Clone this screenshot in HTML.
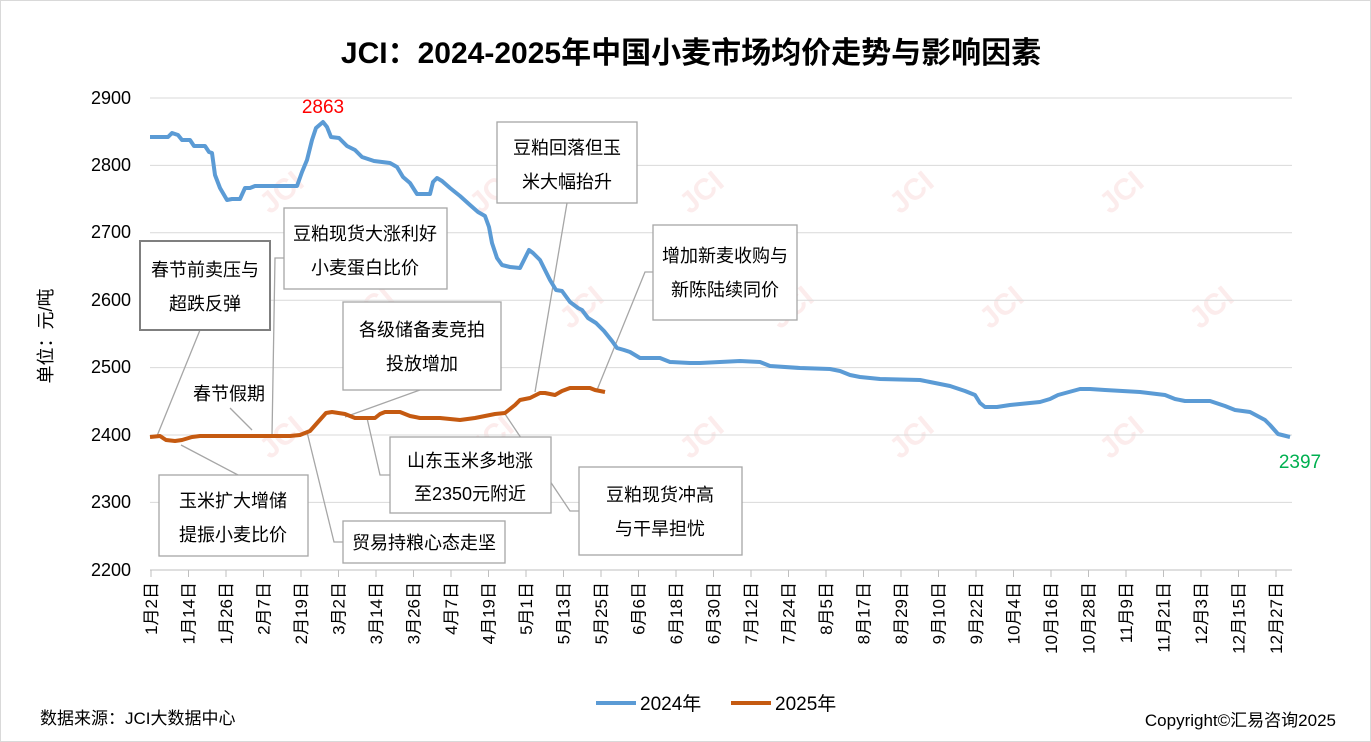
<!DOCTYPE html>
<html><head><meta charset="utf-8"><style>
html,body{margin:0;padding:0;background:#fff}
svg{display:block}
text{font-family:"Liberation Sans","Noto Sans CJK SC",sans-serif}
</style></head><body>
<svg width="1371" height="742" viewBox="0 0 1371 742" xmlns="http://www.w3.org/2000/svg">
<rect x="0.5" y="0.5" width="1370" height="741" fill="#fff" stroke="#d9d9d9"/>
<text x="691" y="63" font-size="30" font-weight="bold" text-anchor="middle" fill="#000">JCI：2024-2025年中国小麦市场均价走势与影响因素</text>
<g font-size="30" fill="#f8d8d8" font-weight="bold" opacity="0.5">
<text transform="translate(270,215) rotate(-40)">JCI</text>
<text transform="translate(480,215) rotate(-40)">JCI</text>
<text transform="translate(690,215) rotate(-40)">JCI</text>
<text transform="translate(900,215) rotate(-40)">JCI</text>
<text transform="translate(1110,215) rotate(-40)">JCI</text>
<text transform="translate(360,330) rotate(-40)">JCI</text>
<text transform="translate(570,330) rotate(-40)">JCI</text>
<text transform="translate(780,330) rotate(-40)">JCI</text>
<text transform="translate(990,330) rotate(-40)">JCI</text>
<text transform="translate(1200,330) rotate(-40)">JCI</text>
<text transform="translate(270,460) rotate(-40)">JCI</text>
<text transform="translate(480,460) rotate(-40)">JCI</text>
<text transform="translate(690,460) rotate(-40)">JCI</text>
<text transform="translate(900,460) rotate(-40)">JCI</text>
<text transform="translate(1110,460) rotate(-40)">JCI</text>
</g>
<g stroke="#d9d9d9" stroke-width="1">
<line x1="150" x2="1292" y1="98" y2="98"/>
<line x1="150" x2="1292" y1="165.4" y2="165.4"/>
<line x1="150" x2="1292" y1="232.8" y2="232.8"/>
<line x1="150" x2="1292" y1="300.2" y2="300.2"/>
<line x1="150" x2="1292" y1="367.6" y2="367.6"/>
<line x1="150" x2="1292" y1="435" y2="435"/>
<line x1="150" x2="1292" y1="502.4" y2="502.4"/>
<line x1="150" x2="1292" y1="570" y2="570" stroke="#bfbfbf"/>
</g>
<g font-size="18" fill="#000" text-anchor="end">
<text x="131" y="104">2900</text><text x="131" y="171">2800</text><text x="131" y="238">2700</text>
<text x="131" y="306">2600</text><text x="131" y="373">2500</text><text x="131" y="441">2400</text>
<text x="131" y="508">2300</text><text x="131" y="576">2200</text>
</g>
<text transform="translate(52,336) rotate(-90)" font-size="18" text-anchor="middle">单位：元/吨</text>
<g stroke="#bfbfbf">
<line x1="151" x2="151" y1="570" y2="577"/><line x1="188.5" x2="188.5" y1="570" y2="577"/><line x1="226" x2="226" y1="570" y2="577"/><line x1="263.5" x2="263.5" y1="570" y2="577"/><line x1="301" x2="301" y1="570" y2="577"/><line x1="338.5" x2="338.5" y1="570" y2="577"/><line x1="376" x2="376" y1="570" y2="577"/><line x1="413.5" x2="413.5" y1="570" y2="577"/><line x1="451" x2="451" y1="570" y2="577"/><line x1="488.5" x2="488.5" y1="570" y2="577"/><line x1="526" x2="526" y1="570" y2="577"/><line x1="563.5" x2="563.5" y1="570" y2="577"/><line x1="601" x2="601" y1="570" y2="577"/><line x1="638.5" x2="638.5" y1="570" y2="577"/><line x1="676" x2="676" y1="570" y2="577"/><line x1="713.5" x2="713.5" y1="570" y2="577"/><line x1="751" x2="751" y1="570" y2="577"/><line x1="788.5" x2="788.5" y1="570" y2="577"/><line x1="826" x2="826" y1="570" y2="577"/><line x1="863.5" x2="863.5" y1="570" y2="577"/><line x1="901" x2="901" y1="570" y2="577"/><line x1="938.5" x2="938.5" y1="570" y2="577"/><line x1="976" x2="976" y1="570" y2="577"/><line x1="1013.5" x2="1013.5" y1="570" y2="577"/><line x1="1051" x2="1051" y1="570" y2="577"/><line x1="1088.5" x2="1088.5" y1="570" y2="577"/><line x1="1126" x2="1126" y1="570" y2="577"/><line x1="1163.5" x2="1163.5" y1="570" y2="577"/><line x1="1201" x2="1201" y1="570" y2="577"/><line x1="1238.5" x2="1238.5" y1="570" y2="577"/><line x1="1276" x2="1276" y1="570" y2="577"/>
</g>
<g font-size="17" fill="#000" text-anchor="end">
<text transform="translate(157,582) rotate(-90)">1月2日</text>
<text transform="translate(194.5,582) rotate(-90)">1月14日</text>
<text transform="translate(232,582) rotate(-90)">1月26日</text>
<text transform="translate(269.5,582) rotate(-90)">2月7日</text>
<text transform="translate(307,582) rotate(-90)">2月19日</text>
<text transform="translate(344.5,582) rotate(-90)">3月2日</text>
<text transform="translate(382,582) rotate(-90)">3月14日</text>
<text transform="translate(419.5,582) rotate(-90)">3月26日</text>
<text transform="translate(457,582) rotate(-90)">4月7日</text>
<text transform="translate(494.5,582) rotate(-90)">4月19日</text>
<text transform="translate(532,582) rotate(-90)">5月1日</text>
<text transform="translate(569.5,582) rotate(-90)">5月13日</text>
<text transform="translate(607,582) rotate(-90)">5月25日</text>
<text transform="translate(644.5,582) rotate(-90)">6月6日</text>
<text transform="translate(682,582) rotate(-90)">6月18日</text>
<text transform="translate(719.5,582) rotate(-90)">6月30日</text>
<text transform="translate(757,582) rotate(-90)">7月12日</text>
<text transform="translate(794.5,582) rotate(-90)">7月24日</text>
<text transform="translate(832,582) rotate(-90)">8月5日</text>
<text transform="translate(869.5,582) rotate(-90)">8月17日</text>
<text transform="translate(907,582) rotate(-90)">8月29日</text>
<text transform="translate(944.5,582) rotate(-90)">9月10日</text>
<text transform="translate(982,582) rotate(-90)">9月22日</text>
<text transform="translate(1019.5,582) rotate(-90)">10月4日</text>
<text transform="translate(1057,582) rotate(-90)">10月16日</text>
<text transform="translate(1094.5,582) rotate(-90)">10月28日</text>
<text transform="translate(1132,582) rotate(-90)">11月9日</text>
<text transform="translate(1169.5,582) rotate(-90)">11月21日</text>
<text transform="translate(1207,582) rotate(-90)">12月3日</text>
<text transform="translate(1244.5,582) rotate(-90)">12月15日</text>
<text transform="translate(1282,582) rotate(-90)">12月27日</text>
</g>
<g stroke="#a6a6a6" stroke-width="1.3" fill="none">
<polyline points="200,330 157,436"/>
<polyline points="284,258 275,258 272,436"/>
<polyline points="567,203 535,392"/>
<polyline points="653,272 645,272 597,390"/>
<polyline points="420,390 345,417"/>
<polyline points="230,408 252,430"/>
<polyline points="181,445 238,475"/>
<polyline points="307,432 334,542 343,542"/>
<polyline points="367,418 380,475 390,475"/>
<polyline points="505,414 570,511 579,511"/>
</g>
<polyline fill="none" stroke="#5b9bd5" stroke-width="4" stroke-linejoin="round" points="150,137 168,137 172,133 178,135 182,140 190,140 194,146 205,146 209,152 212,153 215,175 220,188 227,200 232,199 240,199 245,188 250,188 255,186 265,186 297,186 302,172 307,160 312,140 316,128 323,122 327,127 331,137 339,138 347,146 355,150 362,157 368,159 374,161 382,162 390,163 397,167 403,177 410,183 417,194 430,194 433,182 437,178 442,181 450,188 460,196 470,205 478,212 485,216 489,227 492,243 497,258 502,265 510,267 520,268 525,258 529,250 533,253 540,260 545,270 550,280 556,290 562,291 570,302 578,308 582,310 588,318 596,323 604,331 612,341 617,348 624,350 630,352 640,358 660,358 670,362 690,363 700,363 720,362 740,361 760,362 770,366 800,368 830,369 840,371 850,375 860,377 880,379 920,380 930,382 950,386 965,391 975,395 980,403 985,407 997,407 1010,405 1040,402 1050,399 1058,395 1080,389 1090,389 1105,390 1140,392 1165,395 1175,399 1185,401 1210,401 1225,406 1235,410 1250,412 1265,420 1270,425 1278,434 1290,437"/>
<polyline fill="none" stroke="#c55a11" stroke-width="4" stroke-linejoin="round" points="150,437 160,436 166,440 175,441 182,440 192,437 200,436 240,436 290,436 300,435 310,431 318,422 326,413 332,412 345,414 355,418 375,418 380,414 385,412 400,412 410,416 420,418 440,418 460,420 475,418 495,414 505,413 515,405 520,400 530,398 540,393 545,393 555,395 562,391 570,388 590,388 595,390 605,392"/>
<text x="323" y="113" font-size="19" fill="#ff0000" text-anchor="middle">2863</text>
<text x="1300" y="468" font-size="19" fill="#00b050" text-anchor="middle">2397</text>
<g fill="#fff" stroke="#a6a6a6" stroke-width="1.3">
<rect x="140" y="241" width="130" height="89" stroke="#7f7f7f" stroke-width="2"/>
<rect x="284" y="208" width="163" height="81"/>
<rect x="497" y="122" width="140" height="81"/>
<rect x="653" y="225" width="144" height="95"/>
<rect x="343" y="302" width="158" height="88"/>
<rect x="159" y="475" width="149" height="81"/>
<rect x="343" y="521" width="162" height="42"/>
<rect x="390" y="437" width="161" height="76"/>
<rect x="579" y="467" width="163" height="88"/>
</g>
<g font-size="18" fill="#000" text-anchor="middle">
<text x="205" y="276">春节前卖压与</text><text x="205" y="310">超跌反弹</text>
<text x="365" y="240">豆粕现货大涨利好</text><text x="365" y="274">小麦蛋白比价</text>
<text x="567" y="154">豆粕回落但玉</text><text x="567" y="188">米大幅抬升</text>
<text x="725" y="262">增加新麦收购与</text><text x="725" y="296">新陈陆续同价</text>
<text x="422" y="336">各级储备麦竞拍</text><text x="422" y="370">投放增加</text>
<text x="229" y="400">春节假期</text>
<text x="233" y="507">玉米扩大增储</text><text x="233" y="541">提振小麦比价</text>
<text x="424" y="549">贸易持粮心态走坚</text>
<text x="470" y="467">山东玉米多地涨</text><text x="470" y="500">至2350元附近</text>
<text x="660" y="501">豆粕现货冲高</text><text x="660" y="535">与干旱担忧</text>
</g>
<line x1="596" y1="703" x2="636" y2="703" stroke="#5b9bd5" stroke-width="4"/>
<text x="640" y="710" font-size="19">2024年</text>
<line x1="731" y1="703" x2="771" y2="703" stroke="#c55a11" stroke-width="4"/>
<text x="775" y="710" font-size="19">2025年</text>
<text x="40" y="724" font-size="17">数据来源：JCI大数据中心</text>
<text x="1336" y="726" font-size="17" text-anchor="end">Copyright©汇易咨询2025</text>
</svg>
</body></html>
